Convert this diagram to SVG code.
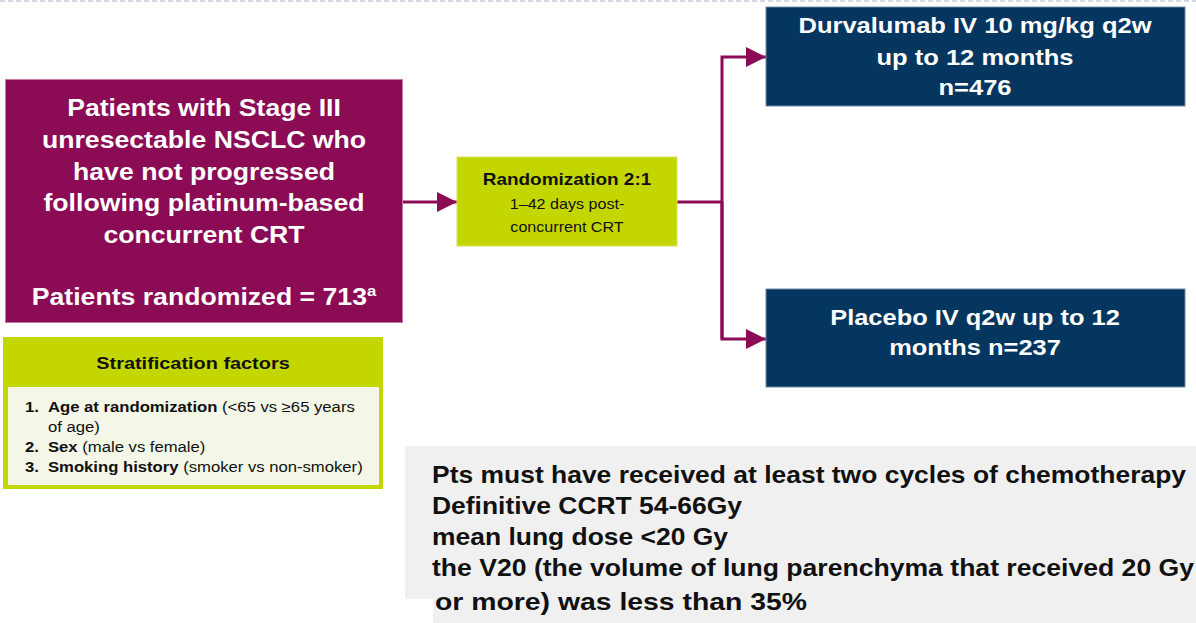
<svg xmlns="http://www.w3.org/2000/svg" width="1196" height="623" viewBox="0 0 1196 623">
<defs>
<style>
.w{font-family:"Liberation Sans",Arial,sans-serif;font-weight:bold;fill:#fff;text-anchor:middle}
.k{font-family:"Liberation Sans",Arial,sans-serif;fill:#111}
.b{font-weight:bold}
.conn{fill:none;stroke:#8B0B55;stroke-width:3}
</style>
<marker id="ah" viewBox="0 0 10 10" refX="10" refY="5" markerWidth="20" markerHeight="20" markerUnits="userSpaceOnUse" orient="auto">
<path d="M0,0 L10,5 L0,10 Z" fill="#8B0B55"/>
</marker>
</defs>
<rect width="1196" height="623" fill="#fff"/>
<line x1="0" y1="1" x2="1196" y2="1" stroke="#D3D8E3" stroke-width="2" stroke-dasharray="5 3"/>

<g id="connectors">
<line class="conn" x1="403" y1="202" x2="457" y2="202" marker-end="url(#ah)"/>
<line class="conn" x1="677" y1="202" x2="722" y2="202"/>
<polyline class="conn" points="722,339 722,57 766,57" marker-end="url(#ah)"/>
<polyline class="conn" points="722,202 722,339 766,339" marker-end="url(#ah)"/>
</g>

<g id="patients">
<rect x="5.5" y="79.5" width="397" height="243" fill="#8B0B55" stroke="#C77AA5" stroke-width="1"/>
<g transform="translate(204 0) scale(1.11 1)">
<text class="w" font-size="24" x="0" y="116">Patients with Stage III</text>
<text class="w" font-size="24" x="0" y="148">unresectable NSCLC who</text>
<text class="w" font-size="24" x="0" y="180">have not progressed</text>
<text class="w" font-size="24" x="0" y="211">following platinum-based</text>
<text class="w" font-size="24" x="0" y="243">concurrent CRT</text>
<text class="w" font-size="24" x="0" y="305">Patients randomized = 713<tspan font-size="15" dy="-9">a</tspan></text>
</g>
</g>

<g id="randomization">
<rect x="457" y="157" width="220" height="89" fill="#C4D600" stroke="#D6E35A" stroke-width="1"/>
<g transform="translate(567 0) scale(1.15 1)">
<text class="k b" font-size="16.5" x="0" y="185" text-anchor="middle">Randomization 2:1</text>
<text class="k" font-size="14" x="0" y="209" text-anchor="middle" fill="#333">1–42 days post-</text>
<text class="k" font-size="14" x="0" y="232" text-anchor="middle" fill="#333">concurrent CRT</text>
</g>
</g>

<g id="durvalumab">
<rect x="766" y="7" width="419" height="99" fill="#04365F" stroke="#6E8AA8" stroke-width="1"/>
<g transform="translate(975 0) scale(1.135 1)">
<text class="w" font-size="22.5" x="0" y="33">Durvalumab IV 10 mg/kg q2w</text>
<text class="w" font-size="22.5" x="0" y="65">up to 12 months</text>
<text class="w" font-size="22.5" x="0" y="95">n=476</text>
</g>
</g>

<g id="placebo">
<rect x="766" y="289" width="419" height="98" fill="#04365F" stroke="#6E8AA8" stroke-width="1"/>
<g transform="translate(975 0) scale(1.13 1)">
<text class="w" font-size="22.5" x="0" y="325">Placebo IV q2w up to 12</text>
<text class="w" font-size="22.5" x="0" y="355">months n=237</text>
</g>
</g>

<g id="stratification">
<rect x="3" y="337" width="380" height="152" fill="#C4D600"/>
<rect x="8" y="387" width="371" height="98" fill="#F4F6E8"/>
<g transform="translate(193 0) scale(1.17 1)">
<text class="k b" font-size="17" x="0" y="369" text-anchor="middle">Stratification factors</text>
</g>
<g font-size="14.5" transform="translate(25 0) scale(1.15 1)">
<text class="k b" x="0" y="412">1.</text>
<text class="k" x="20" y="412"><tspan class="b">Age at randomization</tspan> (&lt;65 vs ≥65 years</text>
<text class="k" x="20" y="432">of age)</text>
<text class="k b" x="0" y="452">2.</text>
<text class="k" x="20" y="452"><tspan class="b">Sex</tspan> (male vs female)</text>
<text class="k b" x="0" y="472">3.</text>
<text class="k" x="20" y="472"><tspan class="b">Smoking history</tspan> (smoker vs non-smoker)</text>
</g>
</g>

<g id="criteria">
<rect x="405" y="446" width="791" height="177" fill="#F0F0F0"/>
<rect x="405" y="599" width="28" height="24" fill="#fff"/>
<g font-size="24" fill="#000">
<text class="k b" x="432" y="483" textLength="754" lengthAdjust="spacingAndGlyphs">Pts must have received at least two cycles of chemotherapy</text>
<text class="k b" x="432" y="514" textLength="310" lengthAdjust="spacingAndGlyphs">Definitive CCRT 54-66Gy</text>
<text class="k b" x="432" y="545" textLength="296" lengthAdjust="spacingAndGlyphs">mean lung dose &lt;20 Gy</text>
<text class="k b" x="432" y="576" textLength="762" lengthAdjust="spacingAndGlyphs">the V20 (the volume of lung parenchyma that received 20 Gy</text>
<text class="k b" x="435" y="610" textLength="372" lengthAdjust="spacingAndGlyphs">or more) was less than 35%</text>
</g>
</g>
</svg>
